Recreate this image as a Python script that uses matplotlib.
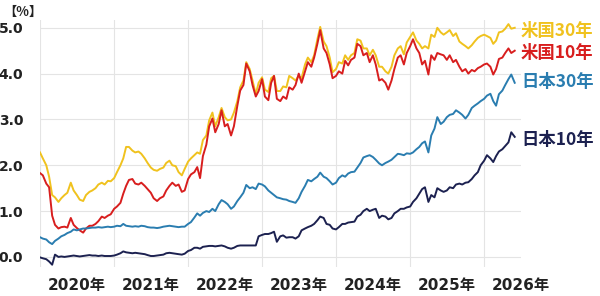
import matplotlib
matplotlib.use('Agg')
import matplotlib.pyplot as plt
import pandas as pd

# semi-monthly observations from Jan 2020
start = '2020-01-01'

us30 = [
    2.28, 2.15, 2.00, 1.75, 1.35, 1.30, 1.20, 1.28, 1.35, 1.40, 1.62, 1.45,
    1.35, 1.25, 1.22, 1.35, 1.42, 1.45, 1.50, 1.58, 1.62, 1.58, 1.66, 1.65,
    1.72, 1.85, 2.00, 2.15, 2.40, 2.40, 2.32, 2.28, 2.30, 2.25, 2.15, 2.05,
    1.95, 1.90, 1.88, 1.92, 1.95, 2.05, 2.10, 2.00, 1.98, 1.85, 1.78, 1.92,
    2.08, 2.15, 2.22, 2.28, 2.25, 2.55, 2.65, 2.98, 3.15, 2.85, 3.05, 3.25,
    3.05, 2.98, 3.00, 3.15, 3.40, 3.70, 3.85, 4.25, 4.10, 3.85, 3.55, 3.80,
    3.92, 3.65, 3.60, 3.90, 3.95, 3.62, 3.62, 3.72, 3.70, 3.95, 3.90, 3.85,
    3.95, 3.90, 4.20, 4.35, 4.25, 4.40, 4.75, 5.02, 4.70, 4.60, 4.35, 4.03,
    4.10, 4.25, 4.22, 4.40, 4.30, 4.40, 4.45, 4.75, 4.72, 4.55, 4.55, 4.40,
    4.52, 4.40, 4.15, 4.15, 4.05, 4.00, 4.15, 4.40, 4.55, 4.60, 4.42, 4.68,
    4.80, 4.90, 4.72, 4.65, 4.55, 4.60, 4.55, 4.85, 4.80, 5.00, 4.90, 4.85,
    4.90, 4.95, 4.82, 4.88, 4.70, 4.65, 4.60, 4.55, 4.62, 4.70, 4.78, 4.82,
    4.85, 4.82, 4.78, 4.65, 4.72, 4.90, 4.92, 4.98, 5.08, 4.98, 5.00,
]

us10 = [
    1.83, 1.78, 1.60, 1.52, 0.90, 0.70, 0.62, 0.65, 0.66, 0.64, 0.85, 0.70,
    0.63, 0.58, 0.53, 0.62, 0.68, 0.68, 0.72, 0.78, 0.88, 0.85, 0.90, 0.93,
    1.05, 1.10, 1.18, 1.38, 1.55, 1.68, 1.70, 1.60, 1.58, 1.62, 1.55, 1.48,
    1.40, 1.28, 1.22, 1.28, 1.32, 1.45, 1.55, 1.62, 1.55, 1.58, 1.42, 1.45,
    1.70, 1.80, 1.85, 1.96, 1.72, 2.20, 2.45, 2.85, 3.02, 2.72, 2.90, 3.20,
    2.85, 2.90, 2.65, 2.85, 3.30, 3.63, 3.75, 4.22, 4.05, 3.75, 3.50, 3.62,
    3.88, 3.50, 3.42, 3.80, 3.95, 3.45, 3.40, 3.50, 3.45, 3.70, 3.65, 3.75,
    4.00, 3.80, 4.05, 4.25, 4.15, 4.35, 4.65, 4.95, 4.55, 4.45, 4.20, 3.90,
    3.95, 4.05, 4.00, 4.28, 4.18, 4.30, 4.35, 4.65, 4.60, 4.40, 4.45, 4.25,
    4.40, 4.20, 3.85, 3.88, 3.80, 3.65, 3.85, 4.10, 4.35, 4.40, 4.20, 4.45,
    4.60, 4.75, 4.55, 4.45, 4.20, 4.28, 3.98, 4.40, 4.30, 4.45, 4.42, 4.40,
    4.30, 4.40, 4.25, 4.30, 4.15, 4.05, 4.10, 4.00, 4.08, 4.05, 4.12, 4.15,
    4.20, 4.22, 4.15, 3.98, 4.10, 4.32, 4.35, 4.45, 4.55, 4.45, 4.50,
]

jp30 = [
    0.43, 0.40, 0.38, 0.32, 0.28, 0.35, 0.40, 0.45, 0.48, 0.52, 0.55, 0.60,
    0.58, 0.60, 0.62, 0.62, 0.63, 0.64, 0.64, 0.65, 0.64, 0.65, 0.66, 0.65,
    0.66, 0.68, 0.67, 0.72, 0.68, 0.67, 0.66, 0.67, 0.66, 0.68, 0.67, 0.65,
    0.64, 0.64, 0.63, 0.64, 0.66, 0.67, 0.68, 0.67, 0.66, 0.65, 0.66, 0.66,
    0.72, 0.76, 0.86, 0.95, 0.90, 0.96, 1.00, 0.98, 1.05, 1.00, 1.15, 1.24,
    1.20, 1.15, 1.05, 1.10, 1.22, 1.30, 1.40, 1.57, 1.50, 1.52, 1.48, 1.60,
    1.58, 1.54, 1.45, 1.40, 1.35, 1.30, 1.28, 1.26, 1.25, 1.22, 1.20, 1.18,
    1.28, 1.42, 1.55, 1.68, 1.65, 1.70, 1.75, 1.84, 1.75, 1.72, 1.65, 1.58,
    1.62, 1.72, 1.78, 1.75, 1.82, 1.85, 1.86, 1.95, 2.05, 2.17, 2.20, 2.22,
    2.18, 2.12, 2.04, 2.00, 2.05, 2.08, 2.12, 2.18, 2.25, 2.24, 2.22, 2.26,
    2.25, 2.28, 2.35, 2.40, 2.48, 2.52, 2.28, 2.65, 2.80, 3.05, 2.90, 2.95,
    3.05, 3.10, 3.12, 3.20, 3.15, 3.10, 3.02, 3.10, 3.25, 3.30, 3.35, 3.40,
    3.45, 3.52, 3.56, 3.40, 3.30, 3.55, 3.63, 3.75, 3.88, 3.98, 3.80,
]

jp10 = [
    -0.01, -0.03, -0.05, -0.10, -0.17, 0.05, 0.00, 0.01, 0.00, 0.01, 0.02, 0.03,
    0.02, 0.01, 0.02, 0.03, 0.04, 0.03, 0.03, 0.02, 0.03, 0.02, 0.02, 0.02,
    0.03, 0.05, 0.08, 0.12, 0.10, 0.09, 0.08, 0.09, 0.08, 0.07, 0.06, 0.04,
    0.02, 0.02, 0.03, 0.04, 0.05, 0.08, 0.09, 0.08, 0.07, 0.06, 0.05, 0.07,
    0.13, 0.15, 0.20, 0.20, 0.18, 0.22, 0.23, 0.24, 0.24, 0.23, 0.24, 0.25,
    0.23, 0.20, 0.18, 0.20, 0.24, 0.25, 0.25, 0.25, 0.25, 0.25, 0.25, 0.45,
    0.48, 0.50, 0.50, 0.52, 0.55, 0.33, 0.45, 0.47, 0.42, 0.43, 0.43, 0.40,
    0.45, 0.58, 0.62, 0.65, 0.68, 0.72, 0.80, 0.88, 0.85, 0.72, 0.70, 0.62,
    0.60, 0.65, 0.72, 0.72, 0.75, 0.76, 0.77, 0.88, 0.92, 1.00, 1.05, 1.00,
    1.03, 1.05, 0.85, 0.90, 0.88, 0.82, 0.85, 0.95, 1.00, 1.05, 1.05, 1.08,
    1.10, 1.20, 1.28, 1.38, 1.48, 1.52, 1.20, 1.35, 1.30, 1.50, 1.45, 1.42,
    1.45, 1.52, 1.50, 1.58, 1.60, 1.58, 1.62, 1.63, 1.70, 1.78, 1.85, 2.00,
    2.10, 2.22, 2.15, 2.07, 2.20, 2.30, 2.35, 2.42, 2.50, 2.72, 2.62,
]

names = ['米国30年', '米国10年', '日本30年', '日本10年']
colors = ['#F0C21E', '#D81E1E', '#2A7DB0', '#1C2150']
label_y = [31, 53, 82, 140]

dates = pd.date_range(start, periods=len(us10), freq='SMS')
years = [2020, 2021, 2022, 2023, 2024, 2025, 2026]

fig = plt.figure(figsize=(6, 2.96), dpi=100)
ax = fig.add_axes([40 / 600, 29 / 296, 481 / 600, 247 / 296])

for vals, c in zip([us30, us10, jp30, jp10], colors):
    ax.plot(dates, vals, color=c, lw=1.4)

ax.set_xlim(pd.Timestamp('2020-01-01'), pd.Timestamp('2026-07-02'))
ax.set_ylim(-0.22, 5.17)
ax.set_yticks([0, 1, 2, 3, 4, 5])
ax.set_yticklabels(['0.0', '1.0', '2.0', '3.0', '4.0', '5.0'],
                   fontsize=10, fontweight='bold', color='#222222')

# year boundaries as gridlines, labels centred in each year
ax.set_xticks([pd.Timestamp(f'{y}-01-01') for y in years])
ax.set_xticklabels([])
ax.set_xticks([pd.Timestamp(f'{y}-07-01') for y in years], minor=True)
ax.set_xticklabels([f'{y}年' for y in years], minor=True, fontsize=11,
                   fontweight='bold', color='#222222',
                   family=['DejaVu Sans', 'Noto Sans CJK JP'])
ax.tick_params(which='both', length=0)
ax.tick_params(axis='y', pad=12)
ax.tick_params(axis='x', which='minor', pad=8)

ax.grid(True, color='#e4e4e4', lw=0.8)
ax.grid(False, which='minor')
for s in ax.spines.values():
    s.set_visible(False)

for name, c, yy in zip(names, colors, label_y):
    fig.text(521 / 600, 1 - yy / 296, name, color=c, fontsize=12.5,
             fontweight='bold', va='center', ha='left',
             family=['Noto Sans CJK JP', 'DejaVu Sans'])

fig.text(3 / 600, 1 - 12 / 296, '【%】', fontsize=9.5, fontweight='bold',
         va='center', ha='left', color='#222222',
         family=['Noto Sans CJK JP', 'DejaVu Sans'])

fig.savefig('out.png', dpi=100)
